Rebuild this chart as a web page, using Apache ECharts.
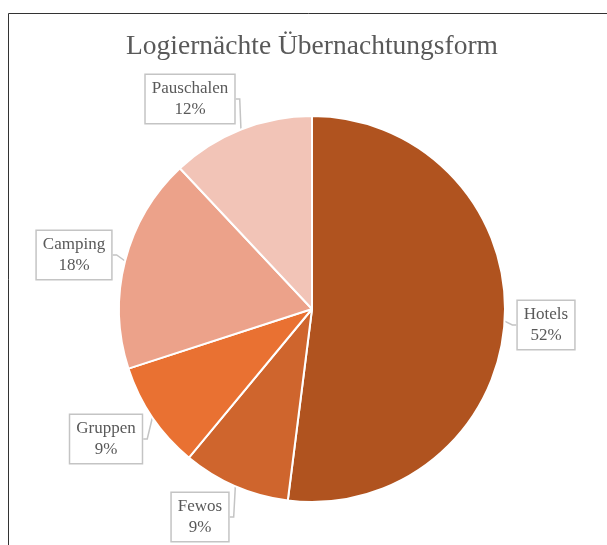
<!DOCTYPE html>
<html>
<head>
<meta charset="utf-8">
<script src="https://cdn.jsdelivr.net/npm/echarts@6/dist/echarts.min.js"></script>
<style>
  html, body { margin: 0; padding: 0; background: #fff; overflow: hidden; }
  #chart { width: 607px; height: 545px; }
</style>
</head>
<body>
<div id="chart"></div>
<script>
// data
const categories = ['Hotels', 'Fewos', 'Gruppen', 'Camping', 'Pauschalen'];
const shares = [52, 9, 9, 18, 12];
const sliceColors = ['#B0531F', '#CF652D', '#E97132', '#ECA28A', '#F2C4B7'];

// callout box centres (label layout only)
const labelPos = [[546, 325], [200, 517], [106, 439], [74, 255], [190, 99]];

const chart = echarts.init(document.getElementById('chart'));

const option = {
  animation: false,
  backgroundColor: '#fff',
  title: {
    text: 'Logiernächte Übernachtungsform',
    left: 307,
    textAlign: 'center',
    top: 28,
    textStyle: {
      fontFamily: 'Liberation Serif',
      fontSize: 27.5,
      fontWeight: 'normal',
      color: '#595959'
    }
  },
  graphic: [{
    type: 'rect',
    shape: { x: 8.5, y: 13.5, width: 700, height: 600 },
    style: { fill: 'none', stroke: '#333', lineWidth: 1 },
    silent: true
  }],
  series: [{
    type: 'pie',
    center: [312, 309],
    radius: 193,
    startAngle: 90,
    clockwise: true,
    percentPrecision: 0,
    data: categories.map((name, i) => ({
      name: name,
      value: shares[i],
      itemStyle: { color: sliceColors[i] }
    })),
    itemStyle: { borderColor: '#fff', borderWidth: 2 },
    label: {
      show: true,
      position: 'outside',
      formatter: '{b}\n{d}%',
      fontFamily: 'Liberation Serif',
      fontSize: 17,
      lineHeight: 21,
      color: '#595959',
      backgroundColor: '#fff',
      borderColor: '#c4c4c4',
      borderWidth: 1.5,
      padding: [3, 6]
    },
    labelLine: {
      show: true,
      length: 4,
      length2: 4,
      lineStyle: { color: '#c4c4c4', width: 1.5 }
    },
    labelLayout: function (params) {
      const p = labelPos[params.dataIndex];
      return { x: p[0], y: p[1], align: 'center', verticalAlign: 'middle' };
    },
    emphasis: { disabled: true }
  }]
};

chart.setOption(option);
</script>
</body>
</html>
